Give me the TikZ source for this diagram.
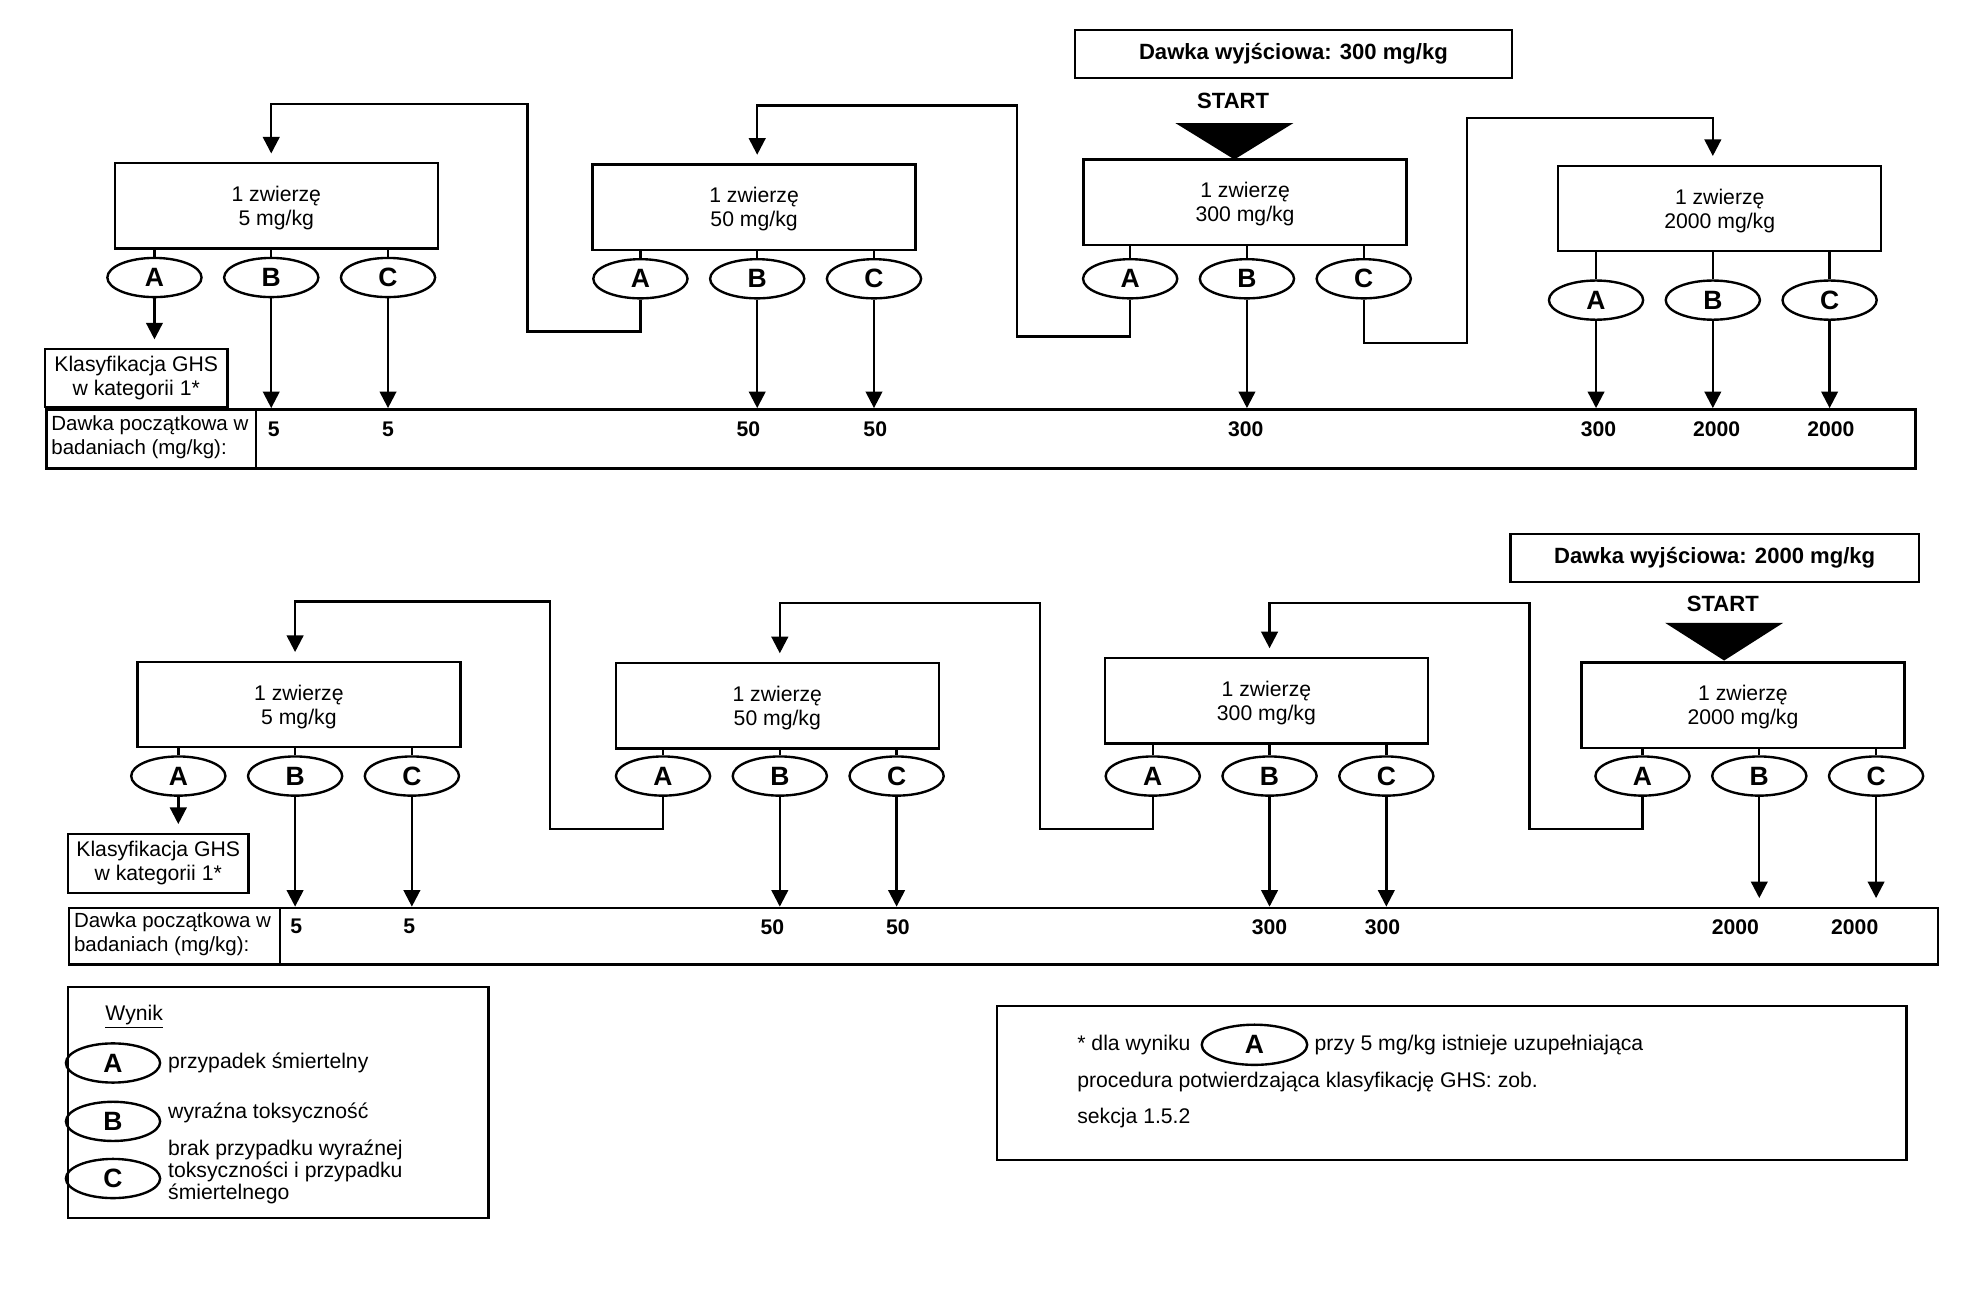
\documentclass[tikz,border=0pt]{standalone}
\usepackage{fontspec}
\setmainfont{Liberation Sans}
\usetikzlibrary{arrows.meta,shapes.geometric,positioning}

\begin{document}
\begin{tikzpicture}[x=0.025cm,y=-0.025cm,line width=1.35pt,
  font=\fontsize{12}{13.5}\selectfont,
  dose/.style={draw,minimum width=6.43cm,minimum height=1.7cm,align=center,inner sep=0,text depth=-2pt},
  res/.style={draw,ellipse,minimum width=1.875cm,minimum height=0.78cm,inner sep=0,font=\fontsize{15}{15}\selectfont\bfseries},
  arr/.style={-{Triangle[length=3.3mm,width=3.3mm]}},
  gap/.style={arr,shorten >=1.7mm},
  val/.style={font=\fontsize{12}{12}\selectfont\bfseries,inner sep=0},
  hdr/.style={draw,minimum height=0.96cm,font=\fontsize{12.5}{13}\selectfont\bfseries},
  ghs/.style={draw,align=center,inner sep=0},
  cell/.style={draw,anchor=north west,inner sep=0},
  lbl/.style={anchor=west,align=left,inner sep=0}]
\useasboundingbox (0,0) rectangle (1568,1034.4);

% starting dose 300 mg/kg
\node[hdr,minimum width=8.7cm] (hdr1) at (1030,43) {Dawka wyjściowa: 300 mg/kg};
\node[font=\fontsize{12.5}{13}\selectfont\bfseries] (start1) at (982,80) {START};
\node[dose] (t5) at (220,164) {1 zwierzę\\5 mg/kg};
\node[dose] (t50) at (600.5,165) {1 zwierzę\\50 mg/kg};
\node[dose] (t300) at (991.5,161) {1 zwierzę\\300 mg/kg};
\node[dose] (t2000) at (1369.5,166) {1 zwierzę\\2000 mg/kg};
\coordinate (tip1) at (983,127);
\fill (tip1) -- ++(-47,-29) -- ++(94,0) -- cycle;

% starting dose 2000 mg/kg
\node[hdr,minimum width=8.125cm] (hdr2) at (1365.5,444.5) {Dawka wyjściowa: 2000 mg/kg};
\node[font=\fontsize{12.5}{13}\selectfont\bfseries] (start2) at (1372,481) {START};
\node[dose] (b5) at (238,561) {1 zwierzę\\5 mg/kg};
\node[dose] (b50) at (619,562) {1 zwierzę\\50 mg/kg};
\node[dose] (b300) at (1008.5,558) {1 zwierzę\\300 mg/kg};
\node[dose] (b2000) at (1388,561.5) {1 zwierzę\\2000 mg/kg};
\coordinate (tip2) at (1373,526);
\fill (tip2) -- ++(-47,-30) -- ++(94,0) -- cycle;

% outcomes under each dose box
\foreach \b/\x/\y in {t5/216/221,t50/603/222,t300/993/222,t2000/1364/239,
                      b5/235/618,b50/621/618,b300/1011/618,b2000/1401/618}{
  \node[res] (\b-A) at (\x-93,\y) {A};
  \node[res] (\b-B) at (\x,\y) {B};
  \node[res] (\b-C) at (\x+93,\y) {C};
  \foreach \r in {A,B,C} \draw (\b-\r.north) -- (\b-\r.north |- \b.south);
}

% GHS boxes and tables
\node[ghs,minimum width=3.625cm,minimum height=1.15cm] (ghs1) at (108.5,301) {Klasyfikacja GHS\\w kategorii 1*};
\node[cell,minimum width=4.175cm,minimum height=1.175cm] (tlab) at (36,325) {};
\node[cell,minimum width=33.025cm,minimum height=1.175cm] (tval) at (203,325) {};
\node[lbl,font=\fontsize{11.6}{13.5}\selectfont] (ttxt) at (40,348) {Dawka początkowa w\\badaniach (mg/kg):};

\node[ghs,minimum width=3.6cm,minimum height=1.175cm] (ghs2) at (126,687.5) {Klasyfikacja GHS\\w kategorii 1*};
\node[cell,minimum width=4.2cm,minimum height=1.125cm] (blab) at (54,722) {};
\node[cell,minimum width=33cm,minimum height=1.125cm] (bval) at (222,722) {};
\node[lbl,font=\fontsize{11.6}{13.5}\selectfont] (btxt) at (58,744) {Dawka początkowa w\\badaniach (mg/kg):};

\foreach \x/\v in {218/5,309/5,596/50,697/50,992/300,1273/300,1367/2000,1458/2000}
  \node[val] (tv\x) at (\x,342) {\v};
\foreach \x/\v in {236/5,326/5,615/50,715/50,1011/300,1101/300,1382/2000,1477/2000}
  \node[val] (bv\x) at (\x,738) {\v};

% arrows
\draw[gap] (t5-A.south) -- (t5-A.south |- ghs1.north);
\draw[gap] (b5-A.south) -- (b5-A.south |- ghs2.north);
\foreach \e in {t5-B,t5-C,t50-B,t50-C,t300-B,t2000-A,t2000-B,t2000-C}
  \draw[arr] (\e.south) -- (\e.south |- tval.north);
\foreach \e in {b5-B,b5-C,b50-B,b50-C,b300-B,b300-C}
  \draw[arr] (\e.south) -- (\e.south |- bval.north);
\foreach \e in {b2000-B,b2000-C}
  \draw[gap] (\e.south) -- (\e.south |- bval.north);

\draw[gap] (t50-A.south) |- (420,264) |- (216,83) -- (t5-B |- t5.north);
\draw[gap] (t300-A.south) |- (810,268) |- (603,84) -- (t50-B |- t50.north);
\draw[gap] (t300-C.south) |- (1168,273) |- (1364,94) -- (t2000-B |- t2000.north);
\draw[gap] (b50-A.south) |- (438,660) |- (235,479) -- (b5-B |- b5.north);
\draw[gap] (b300-A.south) |- (828,660) |- (621,480) -- (b50-B |- b50.north);
\draw[gap] (b2000-A.south) |- (1218,660) |- (1011,480) -- (b300-B |- b300.north);

% legend
\node[cell,minimum width=8.375cm,minimum height=4.6cm] (legend) at (53,785) {};
\node[lbl] (wynik) at (83,810) {\underline{Wynik}};
\node[res] (lA) at (90,846.5) {A};
\node[res] (lB) at (90,893) {B};
\node[res] (lC) at (90,938.5) {C};
\node[lbl] (lAtxt) at (133,846.5) {przypadek śmiertelny};
\node[lbl] (lBtxt) at (133,886) {wyraźna toksyczność};
\node[lbl,font=\fontsize{12}{12.4}\selectfont] (lCtxt) at (133,933.5) {brak przypadku wyraźnej\\toksyczności i przypadku\\śmiertelnego};

% footnote
\node[cell,minimum width=18.1cm,minimum height=3.075cm] (note) at (793,800) {};
\node[lbl] (n1) at (857,832) {* dla wyniku};
\node[res,minimum width=2.1cm,minimum height=0.8cm] (nA) at (999,832) {A};
\node[lbl,right=1mm of nA] (n2) {przy 5 mg/kg istnieje uzupełniająca};
\node[lbl] (n3) at (857,862) {procedura potwierdzająca klasyfikację GHS: zob.};
\node[lbl] (n4) at (857,890) {sekcja 1.5.2};
\end{tikzpicture}
\end{document}
